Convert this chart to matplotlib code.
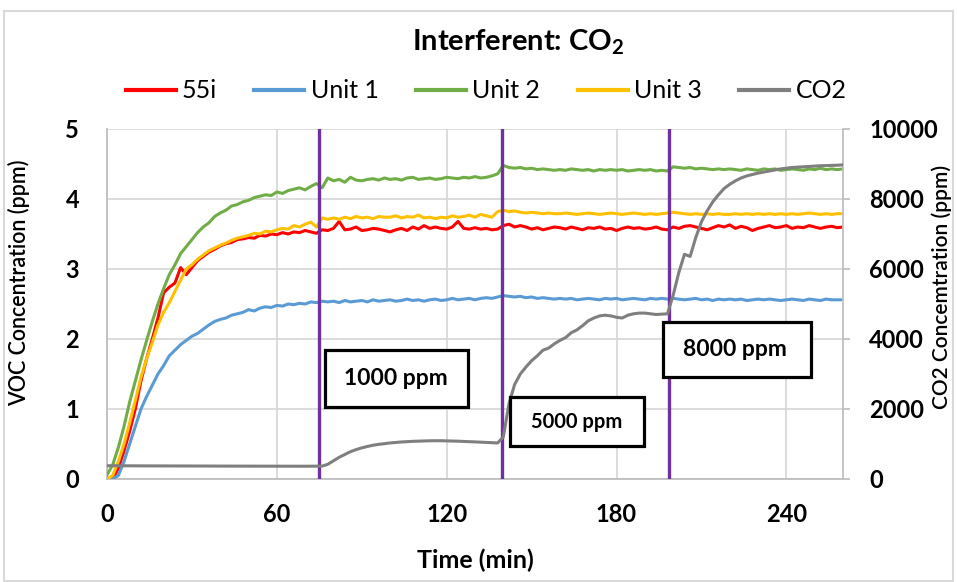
import numpy as np
import matplotlib
matplotlib.use("Agg")
import matplotlib.pyplot as plt
from matplotlib.patches import Rectangle

plt.rcParams['font.family'] = ['Lato', 'DejaVu Sans']
plt.rcParams['mathtext.fontset'] = 'custom'
plt.rcParams['mathtext.rm'] = 'Lato:bold'
plt.rcParams['mathtext.default'] = 'rm'

# ---------------- data (time in minutes, 2-min steps) ----------------
time_min = np.arange(0, 261, 2)

voc_55i = [
    0.00, 0.00, 0.15, 0.40, 0.68, 1.00, 1.40, 1.72, 2.00, 2.30,
    2.66, 2.74, 2.80, 3.02, 2.92, 3.02, 3.12, 3.18, 3.24, 3.28,
    3.33, 3.36, 3.38, 3.42, 3.43, 3.45, 3.44, 3.48, 3.47, 3.50,
    3.49, 3.52, 3.50, 3.53, 3.52, 3.55, 3.53, 3.51, 3.56, 3.55,
    3.58, 3.68, 3.56, 3.57, 3.60, 3.55, 3.56, 3.58, 3.57, 3.55,
    3.53, 3.56, 3.58, 3.55, 3.60, 3.57, 3.62, 3.58, 3.60, 3.58,
    3.57, 3.60, 3.68, 3.58, 3.57, 3.59, 3.57, 3.58, 3.56, 3.57,
    3.62, 3.64, 3.60, 3.62, 3.60, 3.57, 3.59, 3.56, 3.58, 3.60,
    3.59, 3.57, 3.60, 3.58, 3.56, 3.59, 3.58, 3.60, 3.57, 3.58,
    3.55, 3.58, 3.60, 3.58, 3.59, 3.57, 3.58, 3.60, 3.57, 3.56,
    3.60, 3.58, 3.61, 3.62, 3.60, 3.58, 3.56, 3.59, 3.62, 3.60,
    3.63, 3.58, 3.61, 3.59, 3.55, 3.58, 3.60, 3.62, 3.59, 3.60,
    3.62, 3.58, 3.60, 3.59, 3.62, 3.60, 3.58, 3.60, 3.61, 3.59,
    3.60]

voc_unit1 = [
    0.00, 0.00, 0.05, 0.25, 0.50, 0.75, 1.00, 1.18, 1.34, 1.50,
    1.62, 1.76, 1.84, 1.92, 1.98, 2.04, 2.08, 2.14, 2.20, 2.25,
    2.28, 2.30, 2.34, 2.36, 2.38, 2.42, 2.40, 2.44, 2.46, 2.45,
    2.48, 2.47, 2.50, 2.49, 2.51, 2.50, 2.53, 2.52, 2.54, 2.53,
    2.54, 2.52, 2.55, 2.53, 2.54, 2.55, 2.53, 2.56, 2.54, 2.55,
    2.56, 2.54, 2.55, 2.57, 2.55, 2.56, 2.54, 2.56, 2.57, 2.55,
    2.56, 2.58, 2.56, 2.57, 2.58, 2.56, 2.58, 2.59, 2.58, 2.60,
    2.62, 2.61, 2.60, 2.61, 2.59, 2.60, 2.58, 2.59, 2.58, 2.57,
    2.58, 2.57, 2.58, 2.56, 2.57, 2.58, 2.57, 2.56, 2.58, 2.57,
    2.58, 2.56, 2.57, 2.58, 2.57, 2.56, 2.58, 2.57, 2.58, 2.57,
    2.58, 2.57, 2.56, 2.57, 2.58, 2.56, 2.57, 2.55, 2.57, 2.56,
    2.57, 2.56, 2.57, 2.55, 2.56, 2.57, 2.56, 2.57, 2.56, 2.55,
    2.56, 2.57, 2.56, 2.55, 2.57, 2.56, 2.55, 2.57, 2.56, 2.56,
    2.56]

voc_unit2 = [
    0.06, 0.20, 0.45, 0.75, 1.10, 1.40, 1.70, 1.98, 2.25, 2.50,
    2.72, 2.92, 3.06, 3.22, 3.32, 3.42, 3.52, 3.60, 3.66, 3.75,
    3.80, 3.84, 3.90, 3.92, 3.96, 3.98, 4.02, 4.04, 4.06, 4.05,
    4.10, 4.08, 4.12, 4.14, 4.16, 4.13, 4.18, 4.22, 4.16, 4.30,
    4.26, 4.28, 4.24, 4.31, 4.27, 4.26, 4.28, 4.29, 4.27, 4.30,
    4.28, 4.29, 4.27, 4.30, 4.31, 4.28, 4.29, 4.30, 4.28, 4.29,
    4.31, 4.30, 4.29, 4.31, 4.30, 4.32, 4.30, 4.31, 4.33, 4.36,
    4.48, 4.45, 4.44, 4.45, 4.43, 4.44, 4.42, 4.43, 4.42, 4.41,
    4.42, 4.41, 4.43, 4.42, 4.41, 4.42, 4.40, 4.42, 4.41, 4.42,
    4.41, 4.42, 4.40, 4.41, 4.42, 4.41, 4.42, 4.40, 4.41, 4.40,
    4.46, 4.45, 4.44, 4.45, 4.43, 4.44, 4.43, 4.42, 4.43, 4.42,
    4.43, 4.42, 4.41, 4.43, 4.42, 4.41, 4.43, 4.42, 4.43, 4.41,
    4.42, 4.43, 4.42, 4.41, 4.43, 4.42, 4.44, 4.42, 4.43, 4.42,
    4.43]

voc_unit3 = [
    0.00, 0.05, 0.25, 0.50, 0.80, 1.12, 1.45, 1.72, 1.95, 2.20,
    2.38, 2.52, 2.68, 2.84, 3.00, 3.06, 3.14, 3.20, 3.26, 3.30,
    3.34, 3.37, 3.41, 3.44, 3.46, 3.48, 3.51, 3.50, 3.54, 3.53,
    3.56, 3.58, 3.57, 3.62, 3.60, 3.64, 3.67, 3.60, 3.73, 3.71,
    3.73, 3.71, 3.74, 3.72, 3.75, 3.73, 3.74, 3.72, 3.75, 3.74,
    3.74, 3.76, 3.73, 3.75, 3.74, 3.77, 3.73, 3.74, 3.72, 3.74,
    3.73, 3.76, 3.74, 3.75, 3.77, 3.74, 3.78, 3.76, 3.74, 3.82,
    3.84, 3.82, 3.83, 3.81, 3.80, 3.81, 3.80, 3.79, 3.80, 3.79,
    3.79, 3.80, 3.79, 3.78, 3.79, 3.80, 3.79, 3.78, 3.79, 3.80,
    3.79, 3.78, 3.79, 3.80, 3.79, 3.78, 3.79, 3.78, 3.79, 3.80,
    3.81, 3.80, 3.79, 3.78, 3.79, 3.78, 3.79, 3.78, 3.79, 3.78,
    3.78, 3.79, 3.78, 3.79, 3.78, 3.79, 3.78, 3.79, 3.78, 3.79,
    3.78, 3.79, 3.78, 3.79, 3.80, 3.79, 3.78, 3.79, 3.78, 3.79,
    3.79]

co2_ppm = [
    380, 380, 378, 378, 376, 376, 375, 375, 374, 374,
    373, 373, 372, 372, 372, 371, 371, 370, 370, 370,
    369, 369, 368, 368, 368, 367, 367, 367, 366, 366,
    366, 366, 365, 365, 365, 365, 365, 365, 368, 420,
    520, 620, 700, 780, 840, 890, 930, 965, 990, 1010,
    1030, 1045, 1058, 1068, 1076, 1082, 1088, 1092, 1094, 1094,
    1090, 1086, 1080, 1074, 1068, 1060, 1052, 1045, 1038, 1030,
    1200, 2150, 2700, 3000, 3200, 3380, 3520, 3680, 3740, 3860,
    3960, 4040, 4180, 4260, 4380, 4520, 4600, 4660, 4680, 4660,
    4620, 4600, 4680, 4720, 4740, 4740, 4720, 4700, 4710, 4720,
    5250, 5900, 6420, 6360, 6900, 7350, 7660, 7920, 8120, 8300,
    8420, 8520, 8600, 8660, 8700, 8740, 8770, 8800, 8830, 8860,
    8880, 8900, 8910, 8920, 8930, 8940, 8950, 8955, 8960, 8965,
    8975]

series_names = ["55i", "Unit 1", "Unit 2", "Unit 3"]
series_colors = ["#FF0000", "#5B9BD5", "#70AD47", "#FFC000"]
co2_color = "#7F7F7F"
switch_times = [75, 139.5, 198.5]
box_labels = ["1000 ppm", "5000 ppm", "8000 ppm"]

x_ticks = [0, 60, 120, 180, 240]
voc_ticks = [0, 1, 2, 3, 4, 5]
co2_ticks = [0, 2000, 4000, 6000, 8000, 10000]

# ---------------- figure ----------------
W, H = 957, 582
fig = plt.figure(figsize=(W / 100, H / 100), dpi=100)
L, R, T, B = 107, 843, 129, 479
ax = fig.add_axes([L / W, 1 - B / H, (R - L) / W, (B - T) / H])
ax2 = ax.twinx()

grid_c = "#D9D9D9"
spine_c = "#BFBFBF"

for name, vals, col in zip(series_names, [voc_55i, voc_unit1, voc_unit2, voc_unit3], series_colors):
    ax.plot(time_min, vals, color=col, lw=2.2, label=name, solid_joinstyle='round', zorder=3)

for st in switch_times:
    ax2.axvline(st, color="#7030A0", lw=2.4, zorder=2)
ax2.plot(time_min, co2_ppm, color=co2_color, lw=2.2, label="CO2", zorder=3)

ax.set_xlim(0, 260)
ax.set_ylim(0, 5)
ax2.set_ylim(0, 10000)
ax.set_xticks(x_ticks)
ax.set_yticks(voc_ticks)
ax2.set_yticks(co2_ticks)

ax.grid(True, color=grid_c, lw=1.3)
ax.set_axisbelow(True)

for a in (ax, ax2):
    for s in a.spines.values():
        s.set_color(spine_c)
        s.set_linewidth(1.3)
    a.spines['top'].set_visible(False)
ax2.spines['left'].set_visible(False)
ax2.spines['bottom'].set_visible(False)
ax.spines['right'].set_visible(False)

tick_fs = 17
ax.tick_params(axis='x', length=0, pad=17, labelsize=tick_fs)
ax.tick_params(axis='y', length=0, pad=20, labelsize=tick_fs)
ax2.tick_params(axis='y', length=5, width=1.3, color=spine_c, pad=14, labelsize=tick_fs)
for lab in ax.get_xticklabels() + ax.get_yticklabels() + ax2.get_yticklabels():
    lab.set_fontweight('bold')

ax.set_xlabel("Time (min)", fontsize=18, fontweight='bold')
ax.xaxis.set_label_coords(0.5, -0.2)
ax.set_ylabel("VOC Concentration (ppm)", fontsize=15.5, fontweight='semibold')
ax.yaxis.set_label_coords(-0.105, 0.56)
ax2.set_ylabel("CO2 Concemtration (ppm)", fontsize=15, fontweight='semibold')
ax2.yaxis.set_label_coords(1.12, 0.55)

# annotation boxes (axes-fraction placement)
box_geom = [(0.296, 0.206, 0.194, 0.163), (0.548, 0.094, 0.181, 0.140), (0.755, 0.292, 0.202, 0.157)]
text_pos = [(0.393, 0.287), (0.638, 0.164), (0.853, 0.369)]
text_fs = [16.5, 14.5, 16.5]
for (bx, by, bw, bh), (tx, ty), lab, fs in zip(box_geom, text_pos, box_labels, text_fs):
    ax2.add_patch(Rectangle((bx, by), bw, bh, transform=ax2.transAxes, fc='white', ec='black', lw=2.3, zorder=5))
    ax2.text(tx, ty, lab, transform=ax2.transAxes, ha='center', va='center', fontsize=fs, fontweight='bold', zorder=6)

# title & legend
fig.text(518 / W, 1 - 42 / H, "Interferent: CO$_2$", ha='center', va='center', fontsize=21, fontweight='bold')
h1, l1 = ax.get_legend_handles_labels()
h2, l2 = ax2.get_legend_handles_labels()
fig.legend(h1 + h2, l1 + l2, loc='center', bbox_to_anchor=(486 / W, 1 - 91 / H), ncol=5, frameon=False,
           fontsize=18, handlelength=2.0, handletextpad=0.25, columnspacing=1.5)
for ln in fig.legends[0].get_lines():
    ln.set_linewidth(3)

# outer border like the chart area frame
fig.add_artist(Rectangle((4 / W, 1 / H), (W - 8) / W, (H - 12) / H, transform=fig.transFigure,
                         fill=False, ec="#D9D9D9", lw=1.5))

fig.savefig("out.png", dpi=100)
